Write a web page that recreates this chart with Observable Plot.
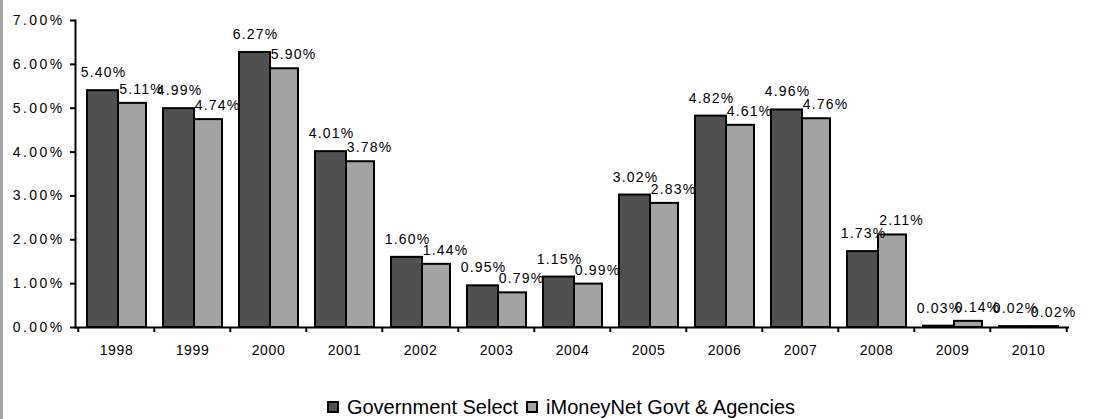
<!DOCTYPE html>
<html><head><meta charset="utf-8">
<script src="https://cdn.jsdelivr.net/npm/d3@7"></script>
<script src="https://cdn.jsdelivr.net/npm/@observablehq/plot@0.6"></script>
<style>
html,body{margin:0;padding:0;background:#fff;}
#wrap{width:1116px;height:419px;border-left:3px solid #a6a6a6;font-family:"Liberation Sans",Arial,sans-serif;overflow:hidden;}
#chart svg{display:block;}
g[aria-label="y-axis tick label"] text{letter-spacing:2.4px;}
g[aria-label="text"] text{letter-spacing:1.2px;}
g[aria-label="x-axis tick label"] text{letter-spacing:0.6px;}
#legend{display:flex;justify-content:center;align-items:center;font-size:20px;height:24px;padding-top:10px;color:#000;}
.item{display:flex;align-items:center;margin:0 4px;}
.sw{width:8px;height:8px;border:2px solid #000;display:inline-block;margin-right:8px;}
</style>
</head><body>
<div id="wrap"><div id="chart"></div><div id="legend"></div></div>
<script>
const years = ["1998","1999","2000","2001","2002","2003","2004","2005","2006","2007","2008","2009","2010"];
const govSelect = [5.40,4.99,6.27,4.01,1.60,0.95,1.15,3.02,4.82,4.96,1.73,0.03,0.02];
const iMoneyNet = [5.11,4.74,5.90,3.78,1.44,0.79,0.99,2.83,4.61,4.76,2.11,0.14,0.02];
const seriesNames = ["Government Select","iMoneyNet Govt & Agencies"];
const seriesColors = ["#505050","#a3a3a3"];
const yTicks = [0,1,2,3,4,5,6,7];

const rows = years.map((y,i)=>({year:y, gov:govSelect[i], imn:iMoneyNet[i]}));
const fmt = v => v.toFixed(2) + "%";

const W = 1116, H = 385, ml = 72, mr = 50, mt = 20, mb = 58;
const step = (W - ml - mr) / years.length;

const chart = Plot.plot({
  width: W, height: H,
  marginLeft: ml, marginRight: mr, marginTop: mt, marginBottom: mb,
  style: {fontFamily: "'Liberation Sans', Arial, sans-serif", fontSize: "14px", color: "#000", background: "#fff", overflow: "visible"},
  x: {domain: years, padding: 0, label: null, axis: null},
  y: {domain: [0, 7], label: null, axis: null},
  marks: [
    Plot.barY(rows, {x: "year", y: "gov", fill: seriesColors[0], stroke: "#000", strokeWidth: 2, insetLeft: 9, insetRight: 36}),
    Plot.barY(rows, {x: "year", y: "imn", fill: seriesColors[1], stroke: "#000", strokeWidth: 2, insetLeft: 40, insetRight: 8}),
    Plot.ruleY([0], {stroke: "#000", strokeWidth: 2}),
    Plot.frame({anchor: "left", stroke: "#000", strokeWidth: 2}),
    Plot.axisY({ticks: yTicks, tickSize: 5, tickPadding: 6, tickFormat: fmt, fontSize: 14, strokeWidth: 2}),
    Plot.axisX({tickSize: 0, tickPadding: 18, fontSize: 14}),
    Plot.axisX({tickSize: 5, tickFormat: null, dx: -step/2, strokeWidth: 2}),
    Plot.axisX([years[years.length-1]], {tickSize: 5, tickFormat: null, dx: step/2, strokeWidth: 2}),
    Plot.text(rows, {x: "year", y: "gov", text: d => fmt(d.gov), dx: -13, dy: -18, fontSize: 14, fill: "#000"}),
    Plot.text(rows, {x: "year", y: "imn", text: d => fmt(d.imn), dx: 25, dy: -14, fontSize: 14, fill: "#000"})
  ]
});
document.getElementById("chart").appendChild(chart);

const legend = document.getElementById("legend");
seriesNames.forEach((n,i)=>{
  const it = document.createElement("span"); it.className = "item";
  const sw = document.createElement("span"); sw.className = "sw"; sw.style.background = seriesColors[i];
  it.appendChild(sw); it.appendChild(document.createTextNode(n));
  legend.appendChild(it);
});
</script>
</body></html>
